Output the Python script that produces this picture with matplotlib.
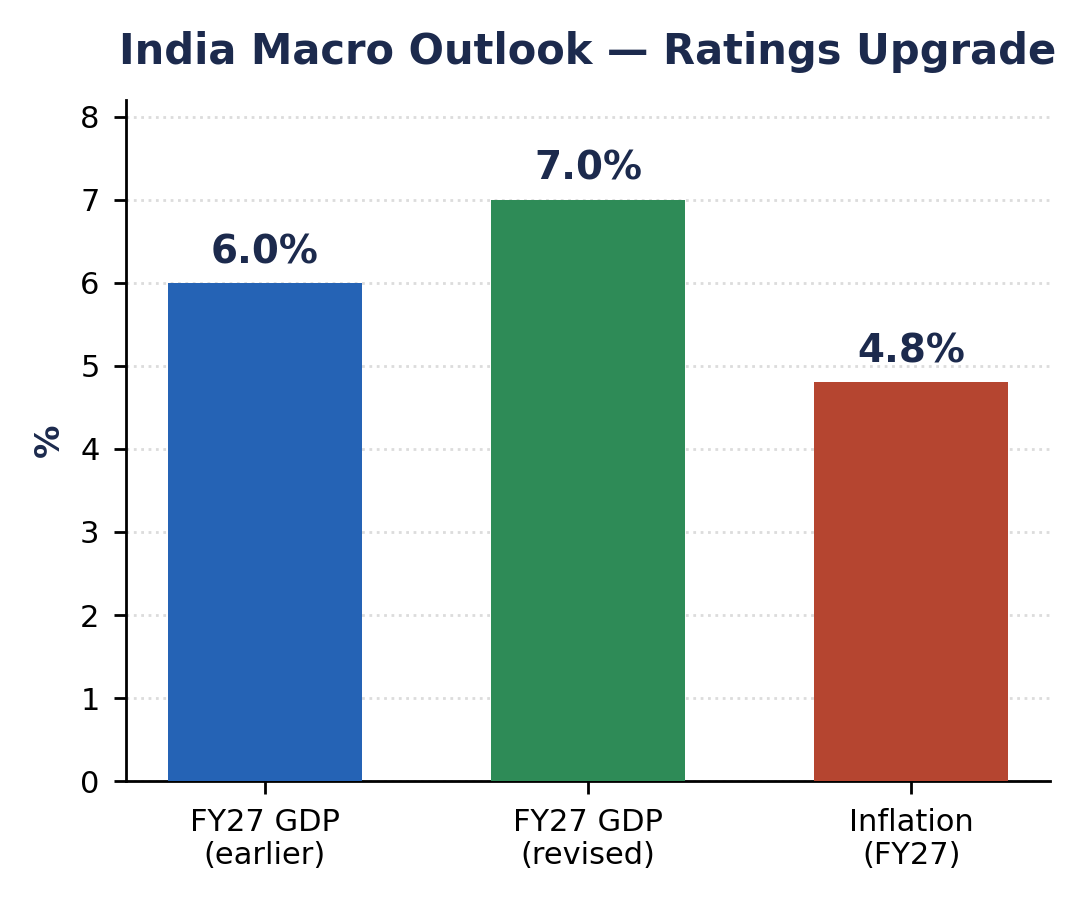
import matplotlib
matplotlib.use("Agg")
import matplotlib.pyplot as plt

categories = ["FY27 GDP\n(earlier)", "FY27 GDP\n(revised)", "Inflation\n(FY27)"]
values = [6.0, 7.0, 4.8]
colors = ["#2563b5", "#2e8b57", "#b54530"]
yticks = [0, 1, 2, 3, 4, 5, 6, 7, 8]

navy = "#1c2a4d"
fig, ax = plt.subplots(figsize=(5.43, 4.5), dpi=200)
x = list(range(len(categories)))
bars = ax.bar(x, values, width=0.6, color=colors, zorder=3)
for xi, v in zip(x, values):
    ax.text(xi, v + 0.14, f"{v:.1f}%", ha="center", va="bottom",
            fontsize=14, fontweight="bold", color=navy)
ax.set_xticks(x)
ax.set_xticklabels(categories, fontsize=11)
ax.set_yticks(yticks)
ax.tick_params(axis="both", length=4.5, width=1.0, pad=5)
ax.tick_params(axis="y", labelsize=11)
ax.set_ylim(0, 8.2)
ax.set_ylabel("%", fontsize=12, fontweight="bold", color=navy, labelpad=5)
ax.set_title("India Macro Outlook — Ratings Upgrade", fontsize=15,
             fontweight="bold", color=navy, pad=13)
ax.grid(axis="y", linestyle=":", color="#dcdcdc", linewidth=1, zorder=0)
ax.spines["top"].set_visible(False)
ax.spines["right"].set_visible(False)
ax.spines["left"].set_linewidth(1.0)
ax.spines["bottom"].set_linewidth(1.0)
fig.subplots_adjust(left=0.116, right=0.967, bottom=0.132, top=0.889)
fig.savefig("out.png", dpi=200)
